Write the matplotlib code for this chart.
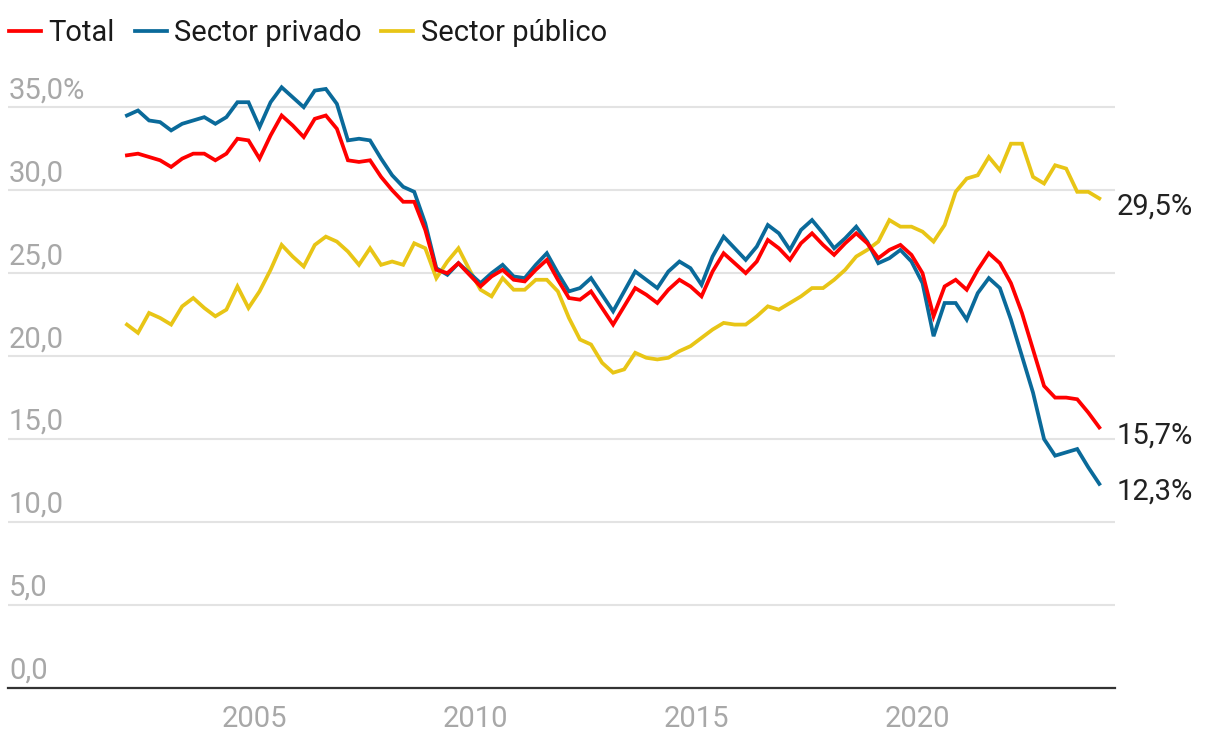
import numpy as np
import matplotlib
matplotlib.use("Agg")
import matplotlib.pyplot as plt
from matplotlib.lines import Line2D

plt.rcParams['font.family'] = ['Roboto', 'DejaVu Sans']

# quarterly data, 2002 Q1 - 2024 Q1 (quarters plotted at mid-quarter)
start_year = 2002
n_quarters = 89

total = [32.1, 32.2, 32.0, 31.8, 31.4, 31.9, 32.2, 32.2, 31.8, 32.2, 33.1, 33.0, 31.9, 33.3, 34.5, 33.9, 33.2, 34.3, 34.5, 33.7, 31.8, 31.7,
         31.8, 30.8, 30.0, 29.3, 29.3, 27.6, 25.2, 25.0, 25.6, 24.9, 24.2, 24.8, 25.2, 24.6, 24.5, 25.2, 25.8, 24.6, 23.5, 23.4, 23.9,
         22.9, 21.9, 23.0, 24.1, 23.7, 23.2, 24.0, 24.6, 24.2, 23.6, 25.1, 26.2, 25.6, 25.0, 25.7, 27.0, 26.5, 25.8, 26.8, 27.4, 26.7, 26.1,
         26.8, 27.4, 26.8, 25.9, 26.4, 26.7, 26.1, 25.0, 22.4, 24.2, 24.6, 24.0, 25.2, 26.2, 25.6, 24.4, 22.6, 20.4, 18.2, 17.5, 17.5, 17.4, 16.6, 15.7]

privado = [34.5, 34.8, 34.2, 34.1, 33.6, 34.0, 34.2, 34.4, 34.0, 34.4, 35.3, 35.3, 33.8, 35.3, 36.2, 35.6, 35.0, 36.0, 36.1, 35.2, 33.0, 33.1,
           33.0, 31.9, 30.9, 30.2, 29.9, 28.0, 25.3, 24.9, 25.6, 25.0, 24.4, 25.0, 25.5, 24.8, 24.7, 25.5, 26.2, 25.0, 23.9, 24.1, 24.7,
           23.7, 22.7, 23.9, 25.1, 24.6, 24.1, 25.1, 25.7, 25.3, 24.3, 26.0, 27.2, 26.5, 25.8, 26.6, 27.9, 27.4, 26.4, 27.6, 28.2, 27.4, 26.5,
           27.1, 27.8, 26.9, 25.6, 25.9, 26.4, 25.7, 24.4, 21.2, 23.2, 23.2, 22.2, 23.8, 24.7, 24.1, 22.2, 20.0, 17.8, 15.0, 14.0, 14.2, 14.4, 13.3, 12.3]

publico = [21.9, 21.4, 22.6, 22.3, 21.9, 23.0, 23.5, 22.9, 22.4, 22.8, 24.2, 22.9, 23.9, 25.2, 26.7, 26.0, 25.4, 26.7, 27.2, 26.9, 26.3, 25.5,
           26.5, 25.5, 25.7, 25.5, 26.8, 26.5, 24.7, 25.7, 26.5, 25.2, 24.0, 23.6, 24.7, 24.0, 24.0, 24.6, 24.6, 23.9, 22.3, 21.0, 20.7,
           19.6, 19.0, 19.2, 20.2, 19.9, 19.8, 19.9, 20.3, 20.6, 21.1, 21.6, 22.0, 21.9, 21.9, 22.4, 23.0, 22.8, 23.2, 23.6, 24.1, 24.1, 24.6,
           25.2, 26.0, 26.4, 26.9, 28.2, 27.8, 27.8, 27.5, 26.9, 27.9, 29.9, 30.7, 30.9, 32.0, 31.2, 32.8, 32.8, 30.8, 30.4, 31.5, 31.3, 29.9, 29.9, 29.5]

series_names = ['Total', 'Sector privado', 'Sector público']
end_labels = ['15,7%', '12,3%', '29,5%']
y_ticks = [0, 5, 10, 15, 20, 25, 30, 35]
y_tick_labels = ['0,0', '5,0', '10,0', '15,0', '20,0', '25,0', '30,0', '35,0%']
x_ticks = [2005, 2010, 2015, 2020]

colors = ['#ff0000', '#0a6a9a', '#e8c516']
gray = '#a8a8a8'
fs = 21

x = start_year + 0.125 + 0.25 * np.arange(n_quarters)

fig = plt.figure(figsize=(12.2, 7.42), dpi=100)
ax = fig.add_axes([8 / 1220, 54 / 742, 1107 / 1220, 614 / 742])

for yv in y_ticks[1:]:
    ax.axhline(yv, color='#e3e3e3', lw=1.5, zorder=1)

data = [total, privado, publico]
# draw order: public first, then private, then total on top
for idx in [2, 1, 0]:
    ax.plot(x, data[idx], color=colors[idx], lw=2.7, solid_joinstyle='miter', zorder=3, clip_on=False)

for idx in range(3):
    ax.annotate(end_labels[idx], xy=(x[-1], data[idx][-1]), xytext=(17, -8),
                textcoords='offset pixels', ha='left', va='center', fontsize=fs, color='#222222')

for yv, lbl in zip(y_ticks, y_tick_labels):
    ax.annotate(lbl, xy=(0, yv), xycoords=('axes fraction', 'data'), xytext=(1, 9),
                textcoords='offset pixels', ha='left', va='baseline', fontsize=fs, color=gray)

ax.set_xlim(1999.434, 2024.48)
ax.set_ylim(0, 37)
ax.set_yticks([])
ax.set_xticks(x_ticks)
ax.set_xticklabels([str(t) for t in x_ticks], fontsize=fs, color=gray)
ax.tick_params(axis='x', length=0, pad=12)
for side in ['top', 'right', 'left']:
    ax.spines[side].set_visible(False)
ax.spines['bottom'].set_color('#333333')
ax.spines['bottom'].set_linewidth(1.6)
ax.spines['bottom'].set_zorder(4)

handles = [Line2D([0], [0], color=c, lw=2.7) for c in colors]
fig.legend(handles, series_names, loc='center left', bbox_to_anchor=(9 / 1220, 1 - 33 / 742),
           ncol=3, frameon=False, fontsize=fs, handlelength=1.1, handletextpad=0.25,
           columnspacing=0.68, borderpad=0, borderaxespad=0, labelcolor='#1a1a1a')

fig.savefig('out.png', dpi=100)
